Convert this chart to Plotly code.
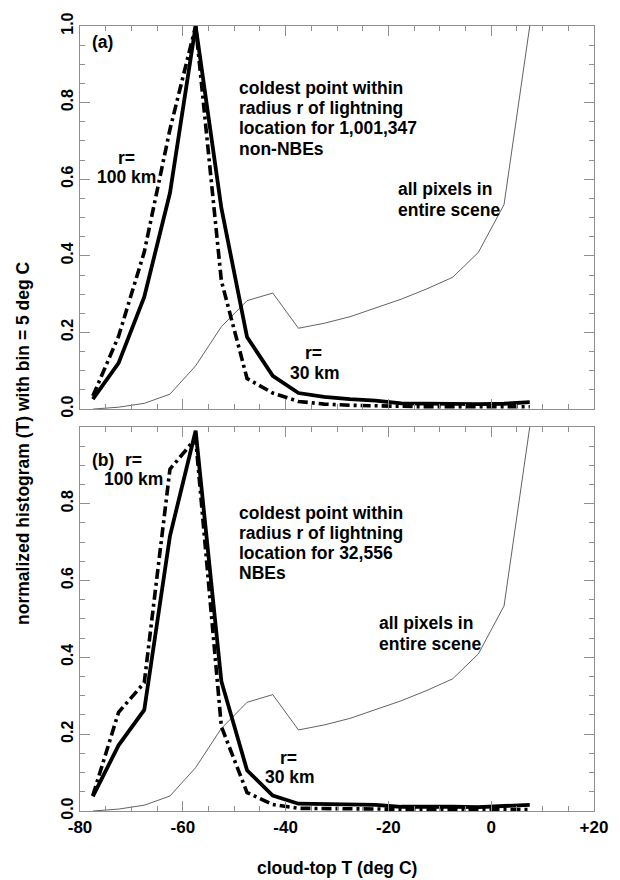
import plotly.graph_objects as go

# ---------------- data ----------------
temp_bins = [-77.5, -72.5, -67.5, -62.5, -57.5, -52.5, -47.5, -42.5, -37.5,
             -32.5, -27.5, -22.5, -17.5, -12.5, -7.5, -2.5, 2.5, 7.5]

# panel (a): non-NBEs
a_r30 = [0.026, 0.12, 0.293, 0.564, 1.0, 0.525, 0.188, 0.087, 0.042,
         0.032, 0.026, 0.022, 0.015, 0.014, 0.013, 0.013, 0.014, 0.018]
a_r100 = [0.034, 0.19, 0.41, 0.73, 1.0, 0.335, 0.08, 0.042, 0.02,
          0.013, 0.01, 0.008, 0.007, 0.006, 0.006, 0.006, 0.006, 0.006]

# all pixels in entire scene (same in both panels)
scene_all = [0.0, 0.005, 0.015, 0.039, 0.113, 0.215, 0.283, 0.303, 0.211,
             0.224, 0.241, 0.263, 0.287, 0.314, 0.344, 0.409, 0.534, 1.0]

# panel (b): NBEs
b_r30 = [0.038, 0.171, 0.263, 0.716, 0.99, 0.338, 0.106, 0.04, 0.019,
         0.018, 0.017, 0.016, 0.011, 0.012, 0.011, 0.01, 0.013, 0.016]
b_r100 = [0.04, 0.257, 0.334, 0.89, 0.97, 0.22, 0.048, 0.017, 0.007,
          0.006, 0.005, 0.005, 0.005, 0.004, 0.004, 0.004, 0.004, 0.004]

x_tick_vals = [-80, -60, -40, -20, 0, 20]
x_tick_text = ["-80", "-60", "-40", "-20", "0", "+20"]
y_tick_vals_a = [0.0, 0.2, 0.4, 0.6, 0.8, 1.0]
y_tick_text_a = ["0.0", "0.2", "0.4", "0.6", "0.8", "1.0"]
y_tick_vals_b = [0.0, 0.2, 0.4, 0.6, 0.8]
y_tick_text_b = ["0.0", "0.2", "0.4", "0.6", "0.8"]

# ---------------- layout geometry (pixels) ----------------
W, H = 620, 880
ML, MR, MT, MB = 80, 15, 18, 69
PW = W - ML - MR
PH = H - MT - MB
A_BOTTOM = 405
B_TOP = 423

def px(x, y):
    return (x - ML) / PW, (H - MB - y) / PH

FONT = "Liberation Sans, Arial, Helvetica, sans-serif"
AXC = "#8f8f8f"

fig = go.Figure()

def add_panel(xa, ya, r30, r100):
    fig.add_trace(go.Scatter(x=temp_bins, y=scene_all, mode="lines",
                             line=dict(color="#3a3a3a", width=0.8),
                             xaxis=xa, yaxis=ya, showlegend=False))
    fig.add_trace(go.Scatter(x=temp_bins, y=r100, mode="lines",
                             line=dict(color="black", width=3.6, dash="10px,4px,3px,4px"),
                             xaxis=xa, yaxis=ya, showlegend=False))
    fig.add_trace(go.Scatter(x=temp_bins, y=r30, mode="lines",
                             line=dict(color="black", width=3.8),
                             xaxis=xa, yaxis=ya, showlegend=False))

add_panel("x", "y", a_r30, a_r100)
add_panel("x2", "y2", b_r30, b_r100)

common = dict(showline=True, linecolor=AXC, linewidth=1.2, mirror="allticks",
              ticks="inside", ticklen=10, tickcolor=AXC, tickwidth=1,
              showgrid=False, zeroline=False)

xminor = dict(ticks="inside", ticklen=5, tickcolor=AXC, tickwidth=1,
              tickmode="linear", tick0=-80, dtick=5, showgrid=False)
yminor = dict(ticks="inside", ticklen=5, tickcolor=AXC, tickwidth=1,
              tickmode="linear", tick0=0, dtick=0.05, showgrid=False)

ya_dom = [(H - MB - A_BOTTOM) / PH, 1.0]
yb_dom = [0.0, (H - MB - B_TOP) / PH]

fig.update_layout(
    width=W, height=H, autosize=False,
    margin=dict(l=ML, r=MR, t=MT, b=MB, pad=0),
    paper_bgcolor="white", plot_bgcolor="white",
    font=dict(family=FONT, size=17, color="black", weight="bold"),
    xaxis=dict(domain=[0, 1], anchor="y", range=[-80, 20],
               tickmode="array", tickvals=x_tick_vals, ticktext=x_tick_text,
               showticklabels=False, minor=xminor, **common),
    yaxis=dict(domain=ya_dom, anchor="x", range=[0, 1.0],
               tickmode="array", tickvals=y_tick_vals_a, ticktext=y_tick_text_a,
               tickangle=-90, tickfont=dict(size=16, family=FONT, weight="bold"),
               minor=yminor, **common),
    xaxis2=dict(domain=[0, 1], anchor="y2", range=[-80, 20],
                tickmode="array", tickvals=x_tick_vals, ticktext=x_tick_text,
                tickfont=dict(size=17, family=FONT, weight="bold"),
                minor=xminor, **common),
    yaxis2=dict(domain=yb_dom, anchor="x2", range=[0, 1.0],
                tickmode="array", tickvals=y_tick_vals_b, ticktext=y_tick_text_b,
                tickangle=-90, tickfont=dict(size=16, family=FONT, weight="bold"),
                minor=yminor, **common),
)

annos = []

def label(text, x, y, xanchor="left", size=17.5, angle=0):
    ax, ay = px(x, y)
    annos.append(dict(text=text, x=ax, y=ay, xref="paper", yref="paper",
                      xanchor=xanchor, yanchor="middle", showarrow=False,
                      textangle=angle,
                      font=dict(family=FONT, size=size, color="black", weight="bold")))

# panel (a)
label("(a)", 90, 34)
label("r=", 127, 151, "center")
label("100 km", 128, 171, "center")
label("coldest point within", 240, 81)
label("radius r of lightning", 240, 101)
label("location for 1,001,347", 240, 121)
label("non-NBEs", 240, 142)
label("all pixels in", 403, 183)
label("entire scene", 403, 204)
label("r=", 319, 348, "center")
label("30 km", 320, 369, "center")

# panel (b)
label("(b)", 90, 456)
label("r=", 135, 456, "center")
label("100 km", 135, 476, "center")
label("coldest point within", 240, 510)
label("radius r of lightning", 240, 530)
label("location for 32,556", 240, 550)
label("NBEs", 240, 571)
label("all pixels in", 383, 621)
label("entire scene", 383, 642)
label("r=", 293, 757, "center")
label("30 km", 294, 777, "center")

# axis titles
label("normalized histogram (T) with bin = 5 deg C", 22, 439, "center", angle=-90)
label("cloud-top T (deg C)", 342, 869, "center")

fig.update_layout(annotations=annos)

fig.write_html("out.html")
